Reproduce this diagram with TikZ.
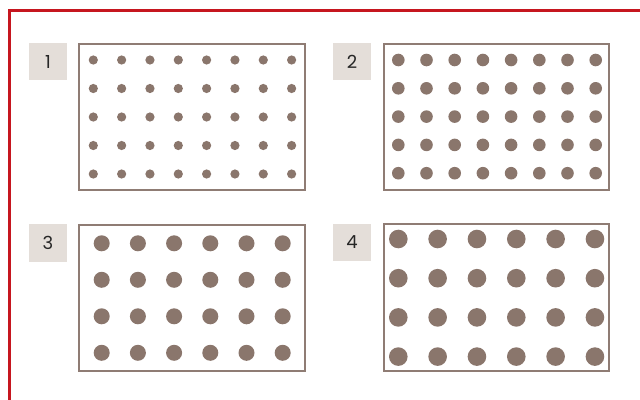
\documentclass[tikz,border=0pt]{standalone}
\usepackage{fontspec}
\setmainfont{Poppins}
\usetikzlibrary{positioning}

\definecolor{framered}{HTML}{C6161F}
\definecolor{dotbrown}{HTML}{8A766C}
\definecolor{edgebrown}{HTML}{8F7C74}
\definecolor{tagfill}{HTML}{E4DED9}

\begin{document}
\begin{tikzpicture}[
    x=1pt, y=-1pt,
    font=\fontsize{18}{18}\selectfont,
    panel/.style={
        draw=edgebrown,
        line width=2pt,
        fill=white,
        anchor=north west,
        inner sep=0pt,
        minimum width=225.7pt,
        minimum height=146.3pt
    },
    tag/.style={
        fill=tagfill,
        inner sep=0pt,
        minimum width=37.5pt,
        minimum height=37.5pt,
        text=black!85
    },
    dot/.style={
        fill=dotbrown
    },
    border/.style={
        draw=framered,
        line width=2.2pt
    }
]

% ---------------------------------------------------------
% Canvas and outer frame
% ---------------------------------------------------------
\path[use as bounding box] (0,0) rectangle (640,399);
\clip (0,0) rectangle (640,399);

\coordinate (fbl) at (9.5,420);
\coordinate (ftl) at (9.5,10.5);
\coordinate (ftr) at (660,10.5);
\draw[border] (fbl) -- (ftl) -- (ftr);

% ---------------------------------------------------------
% Panels and number tags
% ---------------------------------------------------------
\node[panel] (p1) at (78.3,42.7) {};
\node[panel] (p2) at (382.7,42.7) {};
\node[panel] (p3) at (78.3,224) {};
\node[panel] (p4) at (382.7,223.3) {};

\node[tag, left=11.3pt of p1.north west, anchor=north east] (t1) {1};
\node[tag, left=11.7pt of p2.north west, anchor=north east] (t2) {2};
\node[tag, left=11.3pt of p3.north west, anchor=north east] (t3) {3};
\node[tag, left=11.7pt of p4.north west, anchor=north east] (t4) {4};

% ---------------------------------------------------------
% Dot grids
% ---------------------------------------------------------
% 1: 8 x 5, small dots
\foreach \i in {0,...,7}
    \foreach \j in {0,...,4}
        \fill[dot] (93.3+28.33*\i, 60+28.5*\j) circle[radius=4.6pt];

% 2: 8 x 5, medium dots
\foreach \i in {0,...,7}
    \foreach \j in {0,...,4}
        \fill[dot] (398.3+28.2*\i, 60+28.3*\j) circle[radius=6.3pt];

% 3: 6 x 4, large dots
\foreach \i in {0,...,5}
    \foreach \j in {0,...,3}
        \fill[dot] (101.7+36.2*\i, 243.3+36.5*\j) circle[radius=8pt];

% 4: 6 x 4, largest dots
\foreach \i in {0,...,5}
    \foreach \j in {0,...,3}
        \fill[dot] (398.3+39.33*\i, 239+39.2*\j) circle[radius=9.3pt];

\end{tikzpicture}
\end{document}
